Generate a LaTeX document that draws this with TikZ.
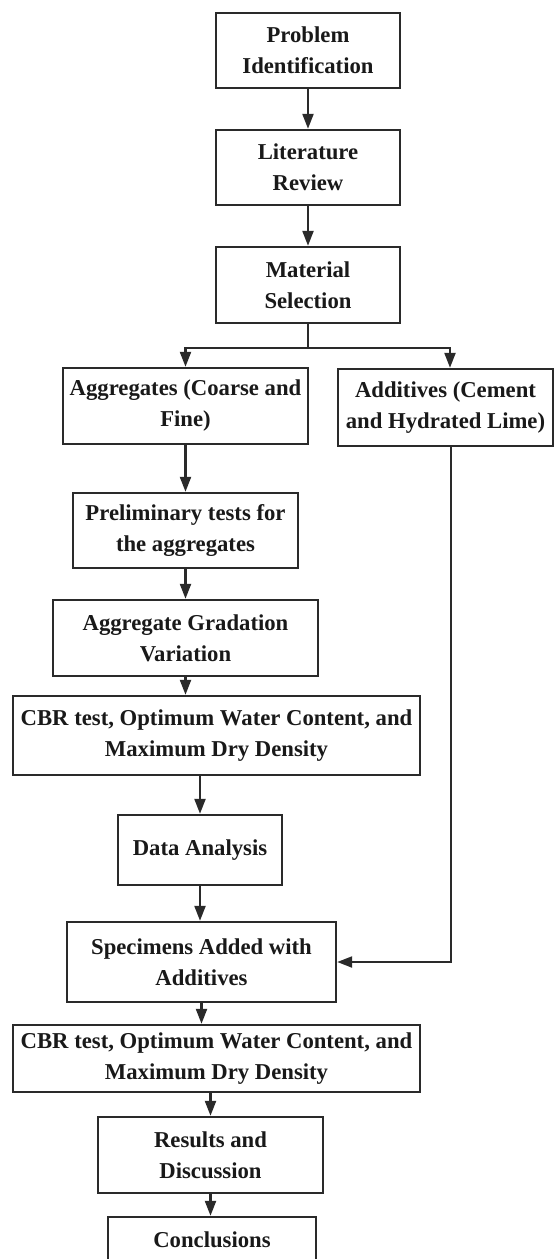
\documentclass[tikz,border=0pt]{standalone}
\usepackage{fontspec}
\setmainfont{Liberation Serif}
\usetikzlibrary{arrows.meta}
\definecolor{linegray}{HTML}{2A2A2A}
\begin{document}
\begin{tikzpicture}[x=1pt,y=-1pt,
  box/.style={draw=linegray, line width=2.4pt, inner sep=0pt, align=center,
    font=\fontsize{22.7}{31}\selectfont\bfseries, text=black!90},
  arr/.style={draw=linegray, line width=2.2pt, -{Triangle[length=15pt,width=11pt]}},
  ln/.style={draw=linegray, line width=2.2pt}]
\useasboundingbox (0,0) rectangle (555,1259);
\fill[white] (0,0) rectangle (555,1259);

\node[box, minimum width=184pt, minimum height=75pt] (prob) at (308,50.5) {Problem\\Identification};
\node[box, minimum width=184pt, minimum height=75pt] (lit) at (308,167.5) {Literature\\Review};
\node[box, minimum width=184pt, minimum height=76pt] (mat) at (308,285) {Material\\Selection};
\node[box, minimum width=245pt, minimum height=76pt] (agg) at (185.5,406) {Aggregates (Coarse and\\Fine)};
\node[box, minimum width=215pt, minimum height=77pt] (add) at (445.5,407.5) {Additives (Cement\\and Hydrated Lime)};
\node[box, minimum width=225pt, minimum height=75pt] (pre) at (185.5,530.5) {Preliminary tests for\\the aggregates};
\node[box, minimum width=265pt, minimum height=76pt] (grad) at (185.5,638) {Aggregate Gradation\\Variation};
\node[box, minimum width=407pt, minimum height=79pt] (cbra) at (216.5,735.5) {CBR test, Optimum Water Content, and\\Maximum Dry Density};
\node[box, minimum width=164pt, minimum height=70pt] (data) at (200,850) {Data Analysis};
\node[box, minimum width=269pt, minimum height=80pt] (spec) at (201.5,962) {Specimens Added with\\Additives};
\node[box, minimum width=407pt, minimum height=67pt] (cbrb) at (216.5,1058.5) {CBR test, Optimum Water Content, and\\Maximum Dry Density};
\node[box, minimum width=225pt, minimum height=76pt] (res) at (210.5,1155) {Results and\\Discussion};
\node[box, minimum width=208pt, minimum height=45pt] (conc) at (212,1239.5) {Conclusions};

\draw[arr] (prob) -- (lit);
\draw[arr] (lit) -- (mat);
\draw[ln] (mat.south) -- ++(0,24) coordinate (split);
\draw[arr] (split) -| (agg.north);
\draw[arr] (split) -| ([xshift=4.5pt]add.north);
\draw[arr] (agg) -- (pre);
\draw[arr] (pre) -- (grad);
\draw[arr] (grad.south) -- (grad.south |- cbra.north);
\draw[arr] (data.north |- cbra.south) -- (data.north);
\draw[arr] (data.south) -- (data.south |- spec.north);
\draw[arr] ([xshift=5.5pt]add.south) |- (spec.east);
\draw[arr] (spec.south) -- (spec.south |- cbrb.north);
\draw[arr] (res.north |- cbrb.south) -- (res.north);
\draw[arr] (res.south) -- (res.south |- conc.north);
\end{tikzpicture}
\end{document}
